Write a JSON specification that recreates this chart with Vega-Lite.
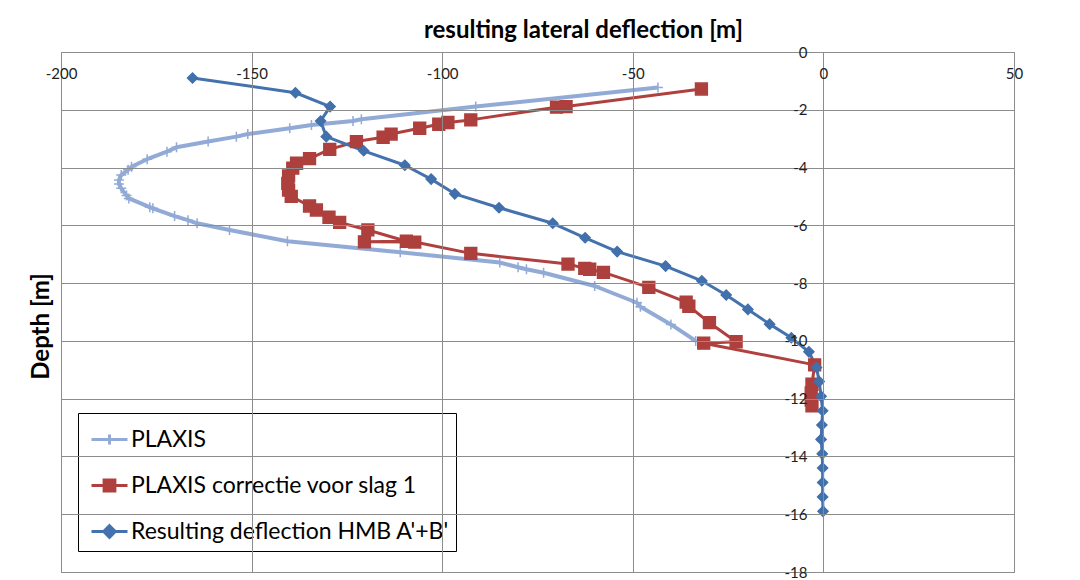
{
  "$schema": "https://vega.github.io/schema/vega-lite/v6.json",
  "autosize": {"type": "none"},
  "width": 953,
  "height": 520,
  "padding": {"left": 61, "top": 52, "right": 66, "bottom": 8},
  "background": "white",
  "config": {
    "view": {"stroke": "#8c8c8c", "strokeWidth": 1},
    "axis": {
      "gridColor": "#8c8c8c",
      "gridWidth": 1,
      "gridOpacity": 1,
      "labelFont": "Lato",
      "labelFontSize": 15,
      "labelColor": "#222222",
      "titleFont": "Lato",
      "titleFontSize": 24,
      "titleFontWeight": "bold",
      "titleColor": "#000000"
    },
    "legend": {
      "title": null,
      "orient": "none",
      "legendX": 17,
      "legendY": 361,
      "direction": "vertical",
      "fillColor": "white",
      "strokeColor": "black",
      "padding": 7,
      "symbolSize": 1296,
      "symbolStrokeWidth": 3,
      "symbolOffset": 5,
      "labelFont": "Lato",
      "labelFontSize": 23,
      "labelColor": "#000000",
      "labelOffset": 2,
      "labelLimit": 0,
      "rowPadding": 14
    }
  },
  "data": {
    "values": [
      {"series": "PLAXIS", "i": 1, "deflection": -43.4, "depth": -1.23},
      {"series": "PLAXIS", "i": 2, "deflection": -91.2, "depth": -1.89},
      {"series": "PLAXIS", "i": 3, "deflection": -121.2, "depth": -2.33},
      {"series": "PLAXIS", "i": 4, "deflection": -123.4, "depth": -2.39},
      {"series": "PLAXIS", "i": 5, "deflection": -134.3, "depth": -2.53},
      {"series": "PLAXIS", "i": 6, "deflection": -140.0, "depth": -2.64},
      {"series": "PLAXIS", "i": 7, "deflection": -151.0, "depth": -2.84},
      {"series": "PLAXIS", "i": 8, "deflection": -154.0, "depth": -2.93},
      {"series": "PLAXIS", "i": 9, "deflection": -161.4, "depth": -3.10},
      {"series": "PLAXIS", "i": 10, "deflection": -169.7, "depth": -3.30},
      {"series": "PLAXIS", "i": 11, "deflection": -172.2, "depth": -3.45},
      {"series": "PLAXIS", "i": 12, "deflection": -177.4, "depth": -3.71},
      {"series": "PLAXIS", "i": 13, "deflection": -181.5, "depth": -3.97},
      {"series": "PLAXIS", "i": 14, "deflection": -182.4, "depth": -4.08},
      {"series": "PLAXIS", "i": 15, "deflection": -184.2, "depth": -4.26},
      {"series": "PLAXIS", "i": 16, "deflection": -184.8, "depth": -4.43},
      {"series": "PLAXIS", "i": 17, "deflection": -184.8, "depth": -4.57},
      {"series": "PLAXIS", "i": 18, "deflection": -184.2, "depth": -4.72},
      {"series": "PLAXIS", "i": 19, "deflection": -182.8, "depth": -4.97},
      {"series": "PLAXIS", "i": 20, "deflection": -182.2, "depth": -5.07},
      {"series": "PLAXIS", "i": 21, "deflection": -176.7, "depth": -5.37},
      {"series": "PLAXIS", "i": 22, "deflection": -175.9, "depth": -5.41},
      {"series": "PLAXIS", "i": 23, "deflection": -170.2, "depth": -5.68},
      {"series": "PLAXIS", "i": 24, "deflection": -166.7, "depth": -5.82},
      {"series": "PLAXIS", "i": 25, "deflection": -164.3, "depth": -5.93},
      {"series": "PLAXIS", "i": 26, "deflection": -155.8, "depth": -6.16},
      {"series": "PLAXIS", "i": 27, "deflection": -140.6, "depth": -6.55},
      {"series": "PLAXIS", "i": 28, "deflection": -111.0, "depth": -6.93},
      {"series": "PLAXIS", "i": 29, "deflection": -84.9, "depth": -7.29},
      {"series": "PLAXIS", "i": 30, "deflection": -80.1, "depth": -7.45},
      {"series": "PLAXIS", "i": 31, "deflection": -77.9, "depth": -7.52},
      {"series": "PLAXIS", "i": 32, "deflection": -73.4, "depth": -7.64},
      {"series": "PLAXIS", "i": 33, "deflection": -60.0, "depth": -8.10},
      {"series": "PLAXIS", "i": 34, "deflection": -48.9, "depth": -8.68},
      {"series": "PLAXIS", "i": 35, "deflection": -48.0, "depth": -8.82},
      {"series": "PLAXIS", "i": 36, "deflection": -40.0, "depth": -9.43},
      {"series": "PLAXIS", "i": 37, "deflection": -33.5, "depth": -10.0},

      {"series": "PLAXIS correctie voor slag 1", "i": 1, "deflection": -32.0, "depth": -1.28},
      {"series": "PLAXIS correctie voor slag 1", "i": 2, "deflection": -67.5, "depth": -1.89},
      {"series": "PLAXIS correctie voor slag 1", "i": 3, "deflection": -70.0, "depth": -1.91},
      {"series": "PLAXIS correctie voor slag 1", "i": 4, "deflection": -92.5, "depth": -2.35},
      {"series": "PLAXIS correctie voor slag 1", "i": 5, "deflection": -98.5, "depth": -2.44},
      {"series": "PLAXIS correctie voor slag 1", "i": 6, "deflection": -100.9, "depth": -2.50},
      {"series": "PLAXIS correctie voor slag 1", "i": 7, "deflection": -105.9, "depth": -2.64},
      {"series": "PLAXIS correctie voor slag 1", "i": 8, "deflection": -113.4, "depth": -2.84},
      {"series": "PLAXIS correctie voor slag 1", "i": 9, "deflection": -115.5, "depth": -2.95},
      {"series": "PLAXIS correctie voor slag 1", "i": 10, "deflection": -122.5, "depth": -3.10},
      {"series": "PLAXIS correctie voor slag 1", "i": 11, "deflection": -129.5, "depth": -3.37},
      {"series": "PLAXIS correctie voor slag 1", "i": 12, "deflection": -134.8, "depth": -3.69},
      {"series": "PLAXIS correctie voor slag 1", "i": 13, "deflection": -138.2, "depth": -3.85},
      {"series": "PLAXIS correctie voor slag 1", "i": 14, "deflection": -139.2, "depth": -4.02},
      {"series": "PLAXIS correctie voor slag 1", "i": 15, "deflection": -140.3, "depth": -4.29},
      {"series": "PLAXIS correctie voor slag 1", "i": 16, "deflection": -140.5, "depth": -4.55},
      {"series": "PLAXIS correctie voor slag 1", "i": 17, "deflection": -140.3, "depth": -4.78},
      {"series": "PLAXIS correctie voor slag 1", "i": 18, "deflection": -139.6, "depth": -5.00},
      {"series": "PLAXIS correctie voor slag 1", "i": 19, "deflection": -134.8, "depth": -5.33},
      {"series": "PLAXIS correctie voor slag 1", "i": 20, "deflection": -133.0, "depth": -5.47},
      {"series": "PLAXIS correctie voor slag 1", "i": 21, "deflection": -129.7, "depth": -5.72},
      {"series": "PLAXIS correctie voor slag 1", "i": 22, "deflection": -126.9, "depth": -5.90},
      {"series": "PLAXIS correctie voor slag 1", "i": 23, "deflection": -119.5, "depth": -6.16},
      {"series": "PLAXIS correctie voor slag 1", "i": 24, "deflection": -109.4, "depth": -6.55},
      {"series": "PLAXIS correctie voor slag 1", "i": 25, "deflection": -120.4, "depth": -6.57},
      {"series": "PLAXIS correctie voor slag 1", "i": 26, "deflection": -107.2, "depth": -6.58},
      {"series": "PLAXIS correctie voor slag 1", "i": 27, "deflection": -92.5, "depth": -6.97},
      {"series": "PLAXIS correctie voor slag 1", "i": 28, "deflection": -67.0, "depth": -7.34},
      {"series": "PLAXIS correctie voor slag 1", "i": 29, "deflection": -62.6, "depth": -7.49},
      {"series": "PLAXIS correctie voor slag 1", "i": 30, "deflection": -61.3, "depth": -7.52},
      {"series": "PLAXIS correctie voor slag 1", "i": 31, "deflection": -57.7, "depth": -7.63},
      {"series": "PLAXIS correctie voor slag 1", "i": 32, "deflection": -45.8, "depth": -8.15},
      {"series": "PLAXIS correctie voor slag 1", "i": 33, "deflection": -36.0, "depth": -8.66},
      {"series": "PLAXIS correctie voor slag 1", "i": 34, "deflection": -35.3, "depth": -8.80},
      {"series": "PLAXIS correctie voor slag 1", "i": 35, "deflection": -29.9, "depth": -9.37},
      {"series": "PLAXIS correctie voor slag 1", "i": 36, "deflection": -22.9, "depth": -10.03},
      {"series": "PLAXIS correctie voor slag 1", "i": 37, "deflection": -31.4, "depth": -10.08},
      {"series": "PLAXIS correctie voor slag 1", "i": 38, "deflection": -2.3, "depth": -10.83},
      {"series": "PLAXIS correctie voor slag 1", "i": 39, "deflection": -3.0, "depth": -11.50},
      {"series": "PLAXIS correctie voor slag 1", "i": 40, "deflection": -3.2, "depth": -11.80},
      {"series": "PLAXIS correctie voor slag 1", "i": 41, "deflection": -3.2, "depth": -12.05},
      {"series": "PLAXIS correctie voor slag 1", "i": 42, "deflection": -3.0, "depth": -12.25},

      {"series": "Resulting deflection HMB A'+B'", "i": 1, "deflection": -165.5, "depth": -0.90},
      {"series": "Resulting deflection HMB A'+B'", "i": 2, "deflection": -138.5, "depth": -1.41},
      {"series": "Resulting deflection HMB A'+B'", "i": 3, "deflection": -129.4, "depth": -1.89},
      {"series": "Resulting deflection HMB A'+B'", "i": 4, "deflection": -131.9, "depth": -2.39},
      {"series": "Resulting deflection HMB A'+B'", "i": 5, "deflection": -130.4, "depth": -2.93},
      {"series": "Resulting deflection HMB A'+B'", "i": 6, "deflection": -120.6, "depth": -3.42},
      {"series": "Resulting deflection HMB A'+B'", "i": 7, "deflection": -109.8, "depth": -3.92},
      {"series": "Resulting deflection HMB A'+B'", "i": 8, "deflection": -102.9, "depth": -4.40},
      {"series": "Resulting deflection HMB A'+B'", "i": 9, "deflection": -96.7, "depth": -4.91},
      {"series": "Resulting deflection HMB A'+B'", "i": 10, "deflection": -85.1, "depth": -5.39},
      {"series": "Resulting deflection HMB A'+B'", "i": 11, "deflection": -71.0, "depth": -5.93},
      {"series": "Resulting deflection HMB A'+B'", "i": 12, "deflection": -62.5, "depth": -6.43},
      {"series": "Resulting deflection HMB A'+B'", "i": 13, "deflection": -54.1, "depth": -6.91},
      {"series": "Resulting deflection HMB A'+B'", "i": 14, "deflection": -41.4, "depth": -7.41},
      {"series": "Resulting deflection HMB A'+B'", "i": 15, "deflection": -31.9, "depth": -7.92},
      {"series": "Resulting deflection HMB A'+B'", "i": 16, "deflection": -25.5, "depth": -8.41},
      {"series": "Resulting deflection HMB A'+B'", "i": 17, "deflection": -19.8, "depth": -8.91},
      {"series": "Resulting deflection HMB A'+B'", "i": 18, "deflection": -14.1, "depth": -9.42},
      {"series": "Resulting deflection HMB A'+B'", "i": 19, "deflection": -8.4, "depth": -9.89},
      {"series": "Resulting deflection HMB A'+B'", "i": 20, "deflection": -3.8, "depth": -10.38},
      {"series": "Resulting deflection HMB A'+B'", "i": 21, "deflection": -1.8, "depth": -10.92},
      {"series": "Resulting deflection HMB A'+B'", "i": 22, "deflection": -1.1, "depth": -11.41},
      {"series": "Resulting deflection HMB A'+B'", "i": 23, "deflection": -0.6, "depth": -11.92},
      {"series": "Resulting deflection HMB A'+B'", "i": 24, "deflection": -0.2, "depth": -12.42},
      {"series": "Resulting deflection HMB A'+B'", "i": 25, "deflection": -0.4, "depth": -12.91},
      {"series": "Resulting deflection HMB A'+B'", "i": 26, "deflection": -0.6, "depth": -13.41},
      {"series": "Resulting deflection HMB A'+B'", "i": 27, "deflection": -0.3, "depth": -13.91},
      {"series": "Resulting deflection HMB A'+B'", "i": 28, "deflection": -0.2, "depth": -14.40},
      {"series": "Resulting deflection HMB A'+B'", "i": 29, "deflection": -0.2, "depth": -14.90},
      {"series": "Resulting deflection HMB A'+B'", "i": 30, "deflection": -0.2, "depth": -15.40},
      {"series": "Resulting deflection HMB A'+B'", "i": 31, "deflection": -0.1, "depth": -15.90}
    ]
  },
  "encoding": {
    "x": {
      "field": "deflection",
      "type": "quantitative",
      "scale": {"domain": [-200, 50], "nice": false, "zero": false},
      "axis": {
        "orient": "bottom",
        "offset": -520,
        "zindex": 1,
        "values": [-200, -150, -100, -50, 0, 50],
        "labelExpr": "'' + datum.value",
        "labelFlush": false,
        "labelOverlap": false,
        "ticks": false,
        "domain": false,
        "labelPadding": 14,
        "labelBaseline": "top",
        "title": "resulting lateral deflection [m]",
        "titleX": 522,
        "titleY": -22,
        "titleAlign": "center",
        "titleBaseline": "middle"
      }
    },
    "y": {
      "field": "depth",
      "type": "quantitative",
      "scale": {"domain": [-18, 0], "nice": false, "zero": false},
      "axis": {
        "orient": "left",
        "offset": -762,
        "zindex": 1,
        "values": [0, -2, -4, -6, -8, -10, -12, -14, -16, -18],
        "labelExpr": "'' + datum.value",
        "labelFlush": false,
        "labelOverlap": false,
        "ticks": false,
        "domain": false,
        "labelPadding": 16,
        "title": "Depth [m]",
        "titleX": -782,
        "titleY": 274,
        "titleAngle": -90,
        "titleAlign": "center",
        "titleBaseline": "middle"
      }
    },
    "order": {"field": "i", "type": "quantitative"}
  },
  "layer": [
    {
      "transform": [{"filter": "datum.series === 'PLAXIS'"}],
      "mark": {"type": "line", "strokeWidth": 4, "strokeJoin": "round"},
      "encoding": {
        "color": {
          "field": "series",
          "type": "nominal",
          "scale": {
            "domain": ["PLAXIS", "PLAXIS correctie voor slag 1", "Resulting deflection HMB A'+B'"],
            "range": ["#92aad6", "#b0403d", "#4472ae"]
          },
          "legend": {
            "encode": {
              "symbols": {
                "update": {
                  "shape": {"signal": "datum.value === 'PLAXIS' ? 'M-1,0H1M0,-0.28V0.28' : datum.value === 'PLAXIS correctie voor slag 1' ? 'M-1,0H1M-0.3,-0.3H0.3V0.3H-0.3Z' : 'M-1,0H1M0,-0.32L0.32,0L0,0.32L-0.32,0Z'"},
                  "fill": {"signal": "datum.value === 'PLAXIS' ? '#92aad6' : datum.value === 'PLAXIS correctie voor slag 1' ? '#b0403d' : '#4472ae'"}
                }
              }
            }
          }
        }
      }
    },
    {
      "transform": [{"filter": "datum.series !== 'PLAXIS'"}],
      "mark": {"type": "line", "strokeWidth": 3, "strokeJoin": "round"},
      "encoding": {
        "color": {
          "field": "series",
          "type": "nominal",
          "scale": {
            "domain": ["PLAXIS", "PLAXIS correctie voor slag 1", "Resulting deflection HMB A'+B'"],
            "range": ["#92aad6", "#b0403d", "#4472ae"]
          },
          "legend": {
            "encode": {
              "symbols": {
                "update": {
                  "shape": {"signal": "datum.value === 'PLAXIS' ? 'M-1,0H1M0,-0.28V0.28' : datum.value === 'PLAXIS correctie voor slag 1' ? 'M-1,0H1M-0.3,-0.3H0.3V0.3H-0.3Z' : 'M-1,0H1M0,-0.32L0.32,0L0,0.32L-0.32,0Z'"},
                  "fill": {"signal": "datum.value === 'PLAXIS' ? '#92aad6' : datum.value === 'PLAXIS correctie voor slag 1' ? '#b0403d' : '#4472ae'"}
                }
              }
            }
          }
        }
      }
    },
    {
      "transform": [{"filter": "datum.series === 'PLAXIS'"}],
      "mark": {"type": "point", "shape": "M0,-1V1M-1,0H1", "size": 100, "filled": false, "stroke": "#92aad6", "strokeWidth": 1.5, "opacity": 1}
    },
    {
      "transform": [{"filter": "datum.series === 'PLAXIS correctie voor slag 1'"}],
      "mark": {"type": "point", "shape": "square", "size": 140, "filled": true, "fill": "#ad403d", "stroke": "#ad403d", "strokeWidth": 1.5, "opacity": 1}
    },
    {
      "transform": [{"filter": "datum.series === \"Resulting deflection HMB A'+B'\""}],
      "mark": {"type": "point", "shape": "diamond", "size": 100, "filled": true, "fill": "#4170ab", "stroke": "#4170ab", "strokeWidth": 1.5, "opacity": 1}
    }
  ]
}
